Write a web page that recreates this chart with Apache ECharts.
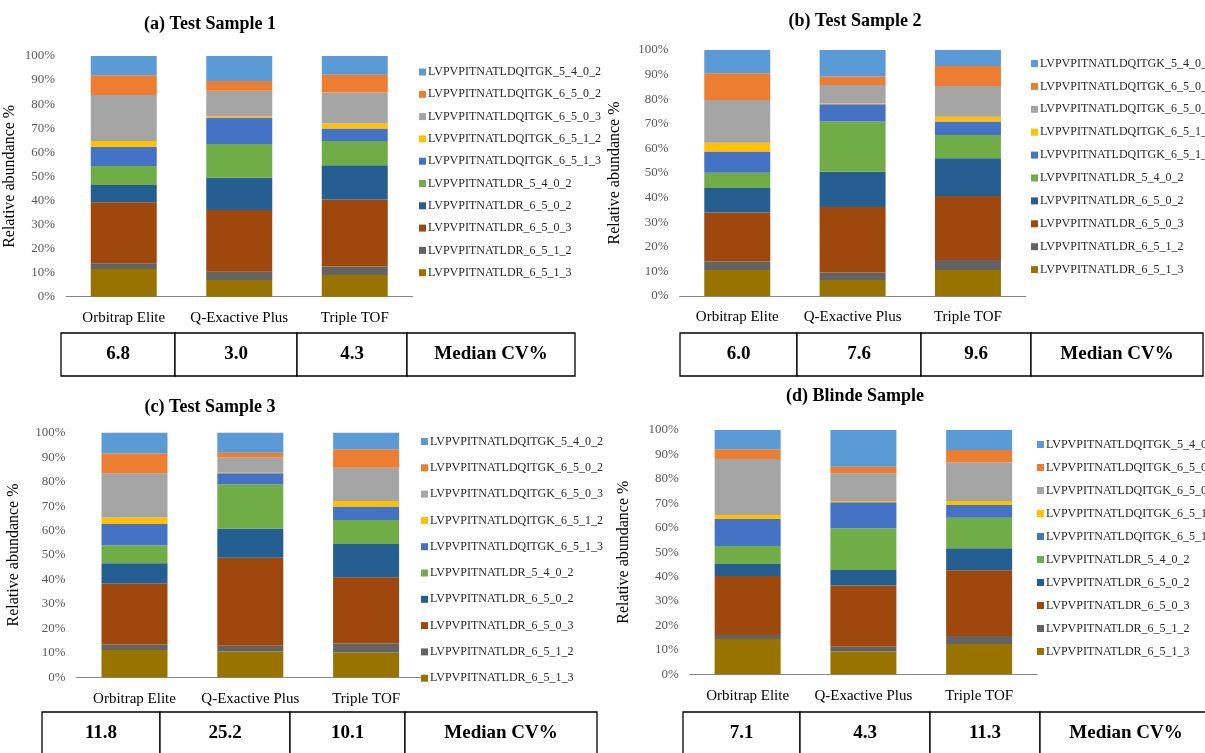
<!DOCTYPE html>
<html>
<head>
<meta charset="utf-8">
<script src="https://cdn.jsdelivr.net/npm/echarts@6/dist/echarts.min.js"></script>
<style>
  html, body { margin: 0; padding: 0; background: #fff; }
  #chart { width: 1205px; height: 753px; }
</style>
</head>
<body>
<div id="chart"></div>
<script>
// categories and series (bottom of stack first)
const categories = ['Orbitrap Elite', 'Q-Exactive Plus', 'Triple TOF'];
const seriesNames = [
  'LVPVPITNATLDR_6_5_1_3',
  'LVPVPITNATLDR_6_5_1_2',
  'LVPVPITNATLDR_6_5_0_3',
  'LVPVPITNATLDR_6_5_0_2',
  'LVPVPITNATLDR_5_4_0_2',
  'LVPVPITNATLDQITGK_6_5_1_3',
  'LVPVPITNATLDQITGK_6_5_1_2',
  'LVPVPITNATLDQITGK_6_5_0_3',
  'LVPVPITNATLDQITGK_6_5_0_2',
  'LVPVPITNATLDQITGK_5_4_0_2'
];
const colors = ['#997300', '#636363', '#9e480e', '#255e91', '#70ad47',
  '#4472c4', '#ffc000', '#a5a5a5', '#ed7d31', '#5b9bd5'];

// relative abundance %, one row per series, one value per instrument
const sample1 = [
  [11.5, 6.9, 9.0], [2.4, 3.5, 3.5], [25.3, 25.6, 27.9], [7.2, 13.4, 14.2], [7.9, 14.0, 10.1],
  [8.0, 10.8, 5.2], [2.4, 0.7, 2.1], [19.1, 10.7, 12.8], [8.2, 4.0, 7.4], [8.0, 10.4, 7.8]
];
const sample2 = [
  [10.6, 6.5, 10.6], [3.4, 3.1, 4.0], [19.9, 26.6, 26.1], [10.0, 14.3, 15.3], [6.2, 20.4, 9.4],
  [8.6, 7.0, 5.5], [3.6, 0.4, 2.0], [17.4, 7.5, 12.5], [10.8, 3.4, 8.1], [9.5, 10.8, 6.5]
];
const sample3 = [
  [11.2, 10.5, 10.1], [2.2, 2.4, 3.7], [24.9, 36.0, 27.1], [8.3, 11.9, 13.6], [7.4, 18.1, 9.8],
  [8.7, 4.5, 5.5], [2.6, 0.2, 2.3], [18.1, 6.3, 13.6], [8.2, 1.9, 7.5], [8.4, 8.2, 6.8]
];
const blinde = [
  [14.5, 9.3, 12.4], [1.6, 2.0, 3.3], [24.1, 25.0, 26.9], [5.0, 6.4, 9.0], [7.3, 17.1, 12.5],
  [11.1, 10.6, 5.2], [1.6, 0.5, 1.6], [22.9, 11.4, 15.9], [4.0, 2.7, 5.0], [7.9, 15.0, 8.2]
];

// median CV% per instrument
const cv1 = [6.8, 3.0, 4.3];
const cv2 = [6.0, 7.6, 9.6];
const cv3 = [11.8, 25.2, 10.1];
const cvBlinde = [7.1, 4.3, 11.3];

const serif = '"Liberation Serif", "Times New Roman", serif';

// layout of the four panels
const panels = [
  { title: '(a) Test Sample 1', data: sample1, cv: cv1, titleX: 205, titleY: 10,
    grid: { left: 66, top: 56, width: 346.5, height: 240.7 }, nameGap: 48,
    legend: { left: 414, top: 60, gap: 8.3 },
    table: { xs: [61, 175, 297, 407, 575], y: 333, h: 43 } },
  { title: '(b) Test Sample 2', data: sample2, cv: cv2, titleX: 850, titleY: 7,
    grid: { left: 679.6, top: 50, width: 346, height: 246 }, nameGap: 57,
    legend: { left: 1026, top: 51.5, gap: 8.9 },
    table: { xs: [680, 797, 921, 1031, 1203], y: 333, h: 43 } },
  { title: '(c) Test Sample 3', data: sample3, cv: cv3, titleX: 205, titleY: 393,
    grid: { left: 76.6, top: 432.7, width: 347.4, height: 244.6 }, nameGap: 55,
    legend: { left: 416, top: 429.5, gap: 12.3 },
    table: { xs: [42, 160, 290, 405, 597], y: 712, h: 50 } },
  { title: '(d) Blinde Sample', data: blinde, cv: cvBlinde, titleX: 850, titleY: 382,
    grid: { left: 689.8, top: 430, width: 347.2, height: 244.3 }, nameGap: 58,
    legend: { left: 1032, top: 432.5, gap: 9 },
    table: { xs: [683, 800, 930, 1040, 1212], y: 712, h: 50 } }
];

const myChart = echarts.init(document.getElementById('chart'));

let titles = [], grids = [], xAxes = [], yAxes = [], legends = [], series = [], graphics = [];

panels.forEach((p, pi) => {
  titles.push({
    text: p.title,
    left: p.titleX,
    top: p.titleY,
    textAlign: 'center',
    textStyle: { fontFamily: serif, fontSize: 18, fontWeight: 'bold', color: '#000' }
  });
  grids.push({ left: p.grid.left, top: p.grid.top, width: p.grid.width, height: p.grid.height });
  xAxes.push({
    type: 'category',
    gridIndex: pi,
    data: categories,
    axisTick: { show: false },
    axisLine: { lineStyle: { color: '#868686', width: 1 } },
    axisLabel: { interval: 0, fontFamily: serif, fontSize: 15, color: '#000', margin: 14 }
  });
  yAxes.push({
    type: 'value',
    gridIndex: pi,
    min: 0,
    max: 100,
    interval: 10,
    name: 'Relative abundance %',
    nameLocation: 'middle',
    nameGap: p.nameGap,
    nameTextStyle: { fontFamily: serif, fontSize: 16, color: '#000' },
    axisLine: { show: false },
    axisTick: { show: false },
    splitLine: { show: false },
    axisLabel: { formatter: '{value}%', fontFamily: serif, fontSize: 13, color: '#595959', margin: 11 }
  });
  legends.push({
    orient: 'vertical',
    left: p.legend.left,
    top: p.legend.top,
    itemGap: p.legend.gap,
    itemWidth: 7,
    itemHeight: 7,
    icon: 'rect',
    data: seriesNames.slice().reverse(),
    textStyle: { fontFamily: serif, fontSize: 12, color: '#262626', lineHeight: 14, padding: [0, 0, 0, -3] }
  });
  seriesNames.forEach((name, si) => {
    series.push({
      name: name,
      type: 'bar',
      stack: 'panel' + pi,
      xAxisIndex: pi,
      yAxisIndex: pi,
      barWidth: 66,
      itemStyle: { color: colors[si] },
      data: p.data[si]
    });
  });

  // median CV% table under each panel
  let xs = p.table.xs;
  let cells = p.cv.map(v => v.toFixed(1)).concat(['Median CV%']);
  cells.forEach((txt, ci) => {
    graphics.push({
      type: 'rect',
      shape: { x: xs[ci], y: p.table.y, width: xs[ci + 1] - xs[ci], height: p.table.h },
      style: { fill: '#fff', stroke: '#000', lineWidth: 1.3 }
    });
    graphics.push({
      type: 'text',
      x: (xs[ci] + xs[ci + 1]) / 2,
      y: p.table.y + 21.5,
      style: {
        text: txt,
        align: 'center',
        verticalAlign: 'middle',
        font: 'bold 19px ' + serif,
        fill: '#000'
      }
    });
  });
});

myChart.setOption({
  animation: false,
  title: titles,
  grid: grids,
  xAxis: xAxes,
  yAxis: yAxes,
  legend: legends,
  series: series,
  graphic: graphics
});
</script>
</body>
</html>
